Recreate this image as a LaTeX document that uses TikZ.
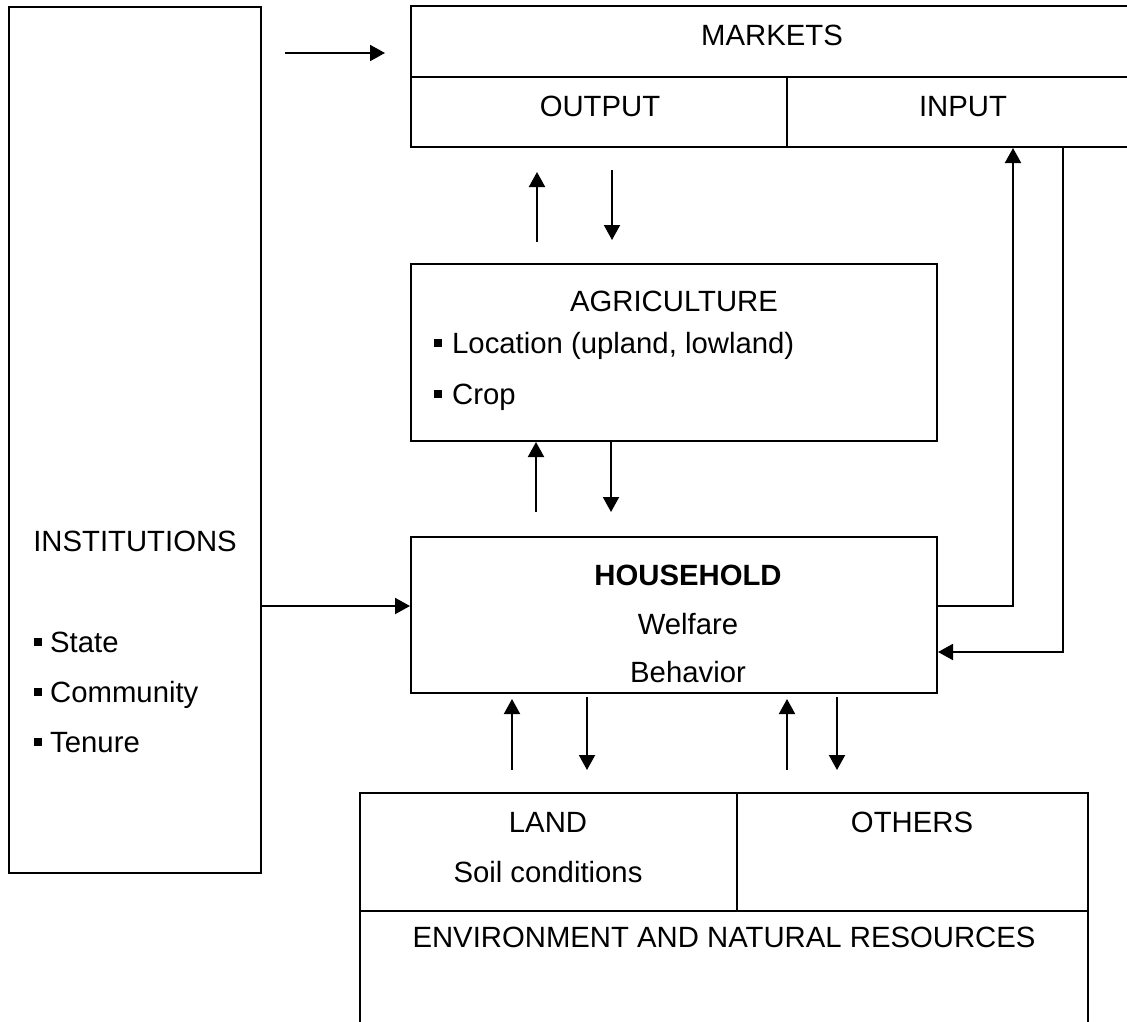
\documentclass[tikz,border=0pt]{standalone}
\usepackage{fontspec}
\setmainfont{Liberation Sans}
\usetikzlibrary{arrows.meta}
\begin{document}
\begin{tikzpicture}[x=1pt,y=-1pt,
    box/.style={draw,line width=2pt,inner sep=0pt},
    lbl/.style={anchor=base,inner sep=0pt,font=\fontsize{29.3}{35}\selectfont},
    item/.style={lbl,anchor=base west},
    bul/.style={fill,inner sep=0pt,minimum size=8pt},
    arr/.style={line width=2pt,-{Triangle[length=15pt,width=16pt]}}]
    \useasboundingbox (0,0) rectangle (1127,1021);

    % boxes
    \node[box,minimum width=252pt,minimum height=866pt] (inst) at (135,440) {};
    \node[box,minimum width=724pt,minimum height=71pt] (mkt) at (773,41.5) {};
    \node[box,minimum width=376pt,minimum height=70pt] (out) at (599,112) {};
    \node[box,minimum width=348pt,minimum height=70pt] (inp) at (961,112) {};
    \node[box,minimum width=526pt,minimum height=177pt] (agri) at (674,352.5) {};
    \node[box,minimum width=526pt,minimum height=156pt] (hh) at (674,615) {};
    \node[box,minimum width=377pt,minimum height=118pt] (land) at (548.5,852) {};
    \node[box,minimum width=351pt,minimum height=118pt] (oth) at (912.5,852) {};
    \node[box,minimum width=728pt,minimum height=119pt] (env) at (724,970.5) {};

    % texts
    \node[lbl] (tmkt) at (772,45) {MARKETS};
    \node[lbl] (tout) at (600,116) {OUTPUT};
    \node[lbl] (tinp) at (963,116) {INPUT};
    \node[lbl] (tagri) at (674,311) {AGRICULTURE};
    \node[bul] (b1) at (438,343) {};
    \node[item] (tloc) at (452,353) {Location (upland, lowland)};
    \node[bul] (b2) at (438,394) {};
    \node[item] (tcrop) at (452,404) {Crop};
    \node[lbl] (tinst) at (135,551) {INSTITUTIONS};
    \node[bul] (b3) at (37.5,642) {};
    \node[item] (tstate) at (50,652) {State};
    \node[bul] (b4) at (37.5,692) {};
    \node[item] (tcom) at (50,702) {Community};
    \node[bul] (b5) at (37.5,742) {};
    \node[item] (tten) at (50,752) {Tenure};
    \node[lbl,font=\fontsize{29.3}{35}\selectfont\bfseries] (thh) at (688,585) {HOUSEHOLD};
    \node[lbl] (twel) at (688,634) {Welfare};
    \node[lbl] (tbeh) at (688,682) {Behavior};
    \node[lbl] (tland) at (548,832) {LAND};
    \node[lbl] (tsoil) at (548,882) {Soil conditions};
    \node[lbl] (toth) at (912,832) {OTHERS};
    \node[lbl] (tenv) at (724,947) {ENVIRONMENT AND NATURAL RESOURCES};

    % free ends of the arrows
    \coordinate (im1) at (285,53);
    \coordinate (im2) at (385,53);
    \coordinate (am1) at (537,242);
    \coordinate (am2) at (537,172);
    \coordinate (ma1) at (612,170);
    \coordinate (ma2) at (612,240);
    \coordinate (ha) at (536,512);
    \coordinate (ah) at (611,512);
    \coordinate (ih) at (300,606);
    \coordinate (hi) at (1013,606);
    \coordinate (ni) at (1063,652);
    \coordinate (lh1) at (512,770);
    \coordinate (lh2) at (512,699);
    \coordinate (hl1) at (587,697);
    \coordinate (hl2) at (587,770);
    \coordinate (oh1) at (787,770);
    \coordinate (oh2) at (787,699);
    \coordinate (ho1) at (837,697);
    \coordinate (ho2) at (837,770);

    % arrows
    \draw[arr] (im1) -- (im2);
    \draw[arr] (am1) -- (am2);
    \draw[arr] (ma1) -- (ma2);
    \draw[arr] (ha) -- (agri.south -| ha);
    \draw[arr] (agri.south -| ah) -- (ah);
    \draw[arr] (inst.east |- ih) -- (hh.west |- ih);
    \draw[arr] (hh.east |- hi) -| (inp.south -| hi);
    \draw[arr] (inp.south -| ni) |- (hh.east |- ni);
    \draw[arr] (lh1) -- (lh2);
    \draw[arr] (hl1) -- (hl2);
    \draw[arr] (oh1) -- (oh2);
    \draw[arr] (ho1) -- (ho2);
\end{tikzpicture}
\end{document}
